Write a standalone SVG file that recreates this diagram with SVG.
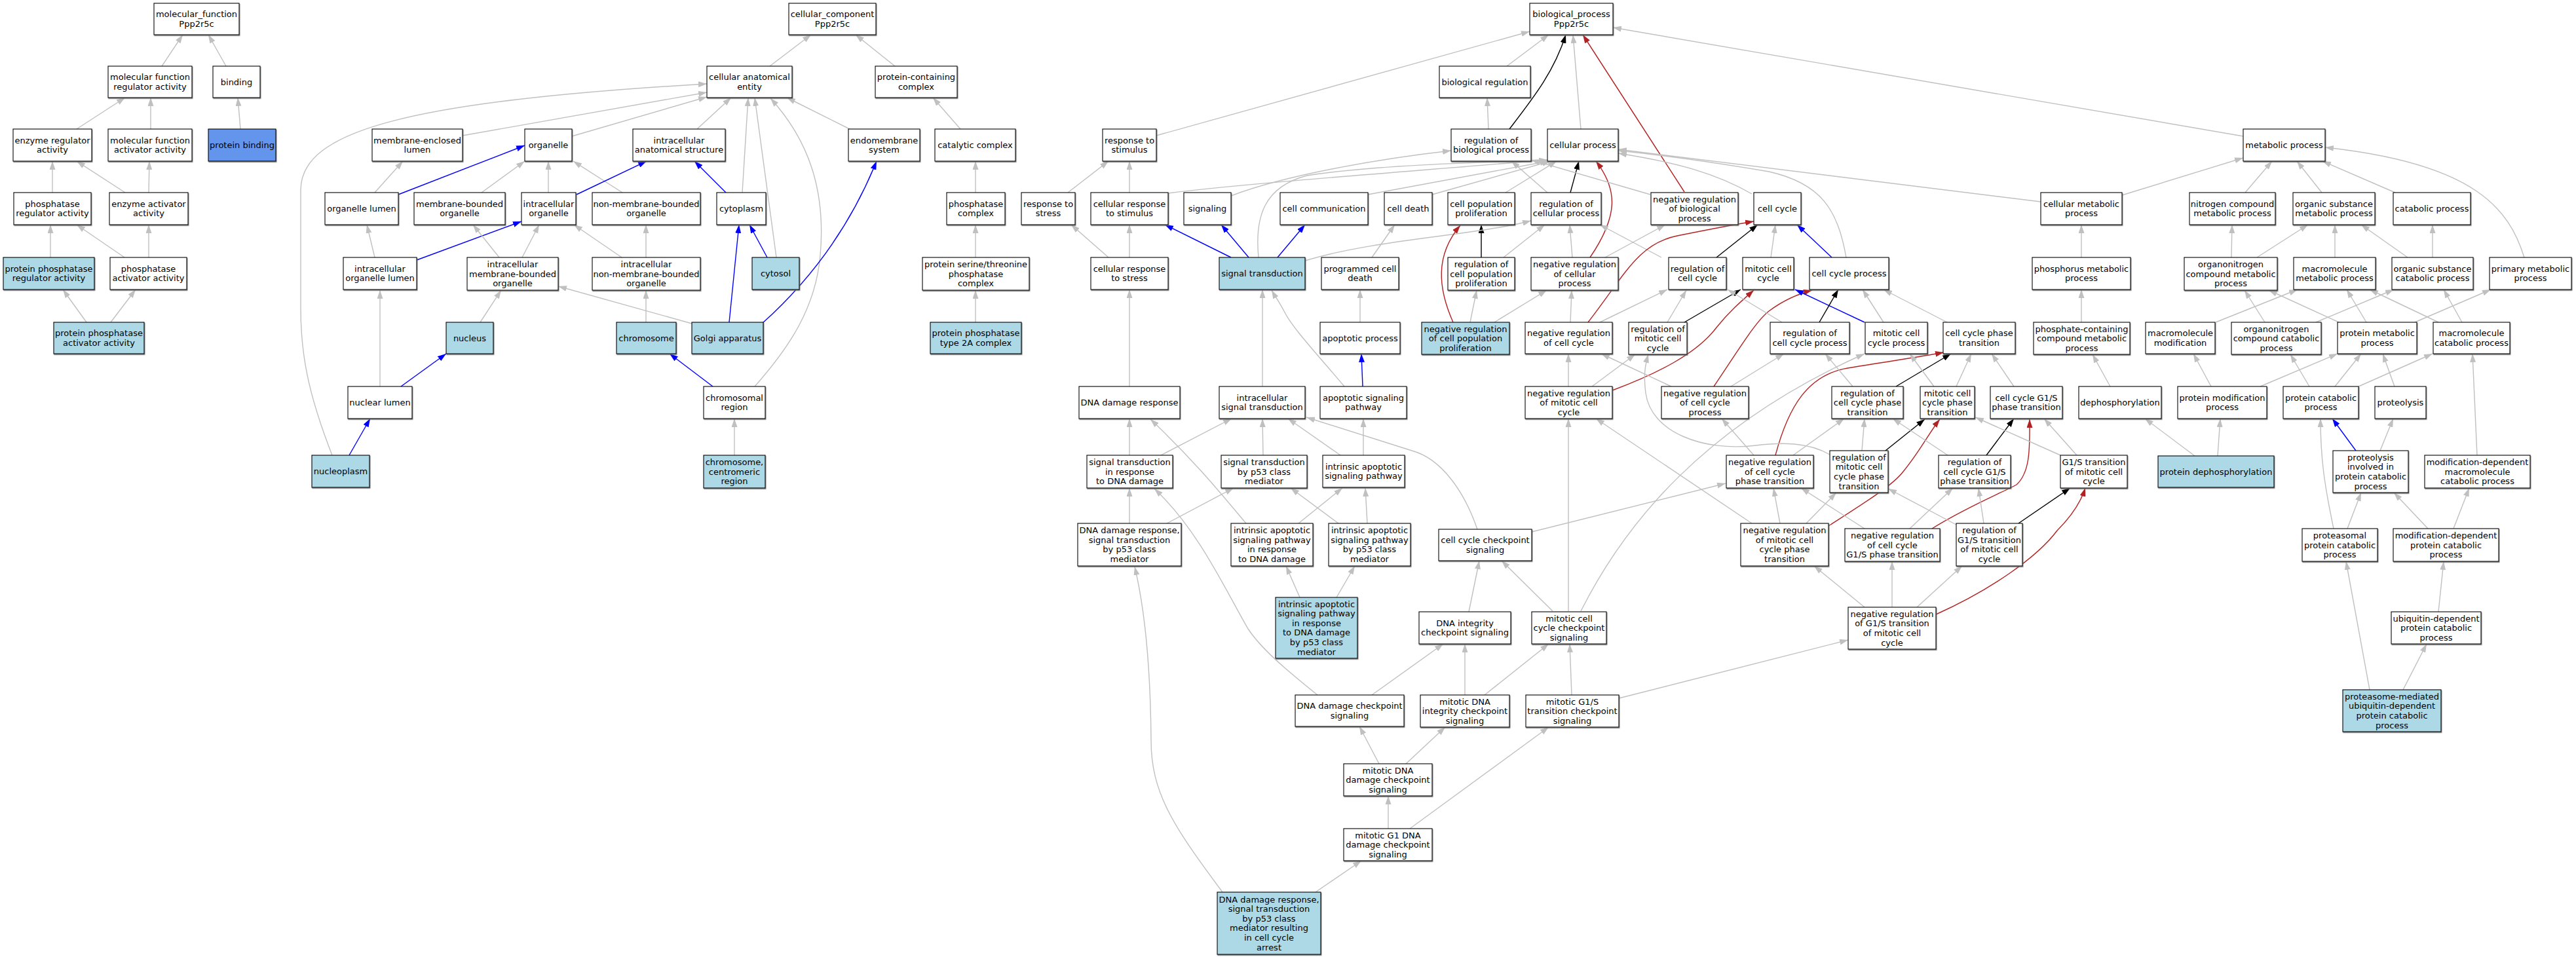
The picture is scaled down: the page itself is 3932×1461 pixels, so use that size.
<svg xmlns="http://www.w3.org/2000/svg" width="3932" height="1461" viewBox="0 0 3932 1461">
<style>
.n rect{fill:#fff;stroke:#000;stroke-width:1.1;filter:url(#sh)}
.lb rect{fill:#ADD8E6}
.pb rect{fill:#6495ED}
.n text{font-family:"DejaVu Sans","Liberation Sans",sans-serif;font-size:13px;text-anchor:middle;fill:#000}
.e path{fill:none;stroke-width:1.4}
.e .g{stroke:#C0C0C0;marker-end:url(#ag)}
.e .b{stroke:#0000FF;marker-end:url(#ab)}
.e .k{stroke:#000;marker-end:url(#ak)}
.e .r{stroke:#B22222;marker-end:url(#ar)}
</style>
<defs>
<filter id="sh" x="-5%" y="-5%" width="115%" height="120%"><feDropShadow dx="0.8" dy="1.3" stdDeviation="0" flood-color="#666"/></filter>
<marker id="ag" markerUnits="userSpaceOnUse" markerWidth="13" markerHeight="9" refX="13" refY="4.5" orient="auto"><path d="M0,0 L13,4.5 L0,9 z" fill="#C0C0C0"/></marker>
<marker id="ab" markerUnits="userSpaceOnUse" markerWidth="13" markerHeight="9" refX="13" refY="4.5" orient="auto"><path d="M0,0 L13,4.5 L0,9 z" fill="#0000FF"/></marker>
<marker id="ak" markerUnits="userSpaceOnUse" markerWidth="13" markerHeight="9" refX="13" refY="4.5" orient="auto"><path d="M0,0 L13,4.5 L0,9 z" fill="#000"/></marker>
<marker id="ar" markerUnits="userSpaceOnUse" markerWidth="13" markerHeight="9" refX="13" refY="4.5" orient="auto"><path d="M0,0 L13,4.5 L0,9 z" fill="#B22222"/></marker>
</defs>
<rect width="3932" height="1461" fill="#fff"/>
<g id="edges" class="e">
<path class="g" d="M247,101 L279,53"/>
<path class="g" d="M345,101 L318,53"/>
<path class="g" d="M117,197 L191,149"/>
<path class="g" d="M230,197 L230,149"/>
<path class="g" d="M367,197 L363,149"/>
<path class="g" d="M80,294 L80,246"/>
<path class="g" d="M191,294 L117,246"/>
<path class="g" d="M227,294 L228,246"/>
<path class="g" d="M77,393 L77,343"/>
<path class="g" d="M190,393 L117,343"/>
<path class="g" d="M227,393 L227,343"/>
<path class="g" d="M132,492 L96,442"/>
<path class="g" d="M169,492 L207,442"/>
<path class="g" d="M1175,101 L1238,53"/>
<path class="g" d="M1366,101 L1306,53"/>
<path class="g" d="M706,207 L1079,141"/>
<path class="g" d="M873,208 L1079,148"/>
<path class="g" d="M507,695 C470,600 459,540 459,470 L459,290 C459,200 620,155 1079,128"/>
<path class="g" d="M1064,197 L1116,149"/>
<path class="g" d="M1133,294 L1142,149"/>
<path class="g" d="M1185,393 L1152,149"/>
<path class="g" d="M1152,590 C1205,530 1245,470 1252,390 C1260,300 1240,220 1176,150"/>
<path class="g" d="M1297,197 L1201,149"/>
<path class="g" d="M1466,197 L1424,149"/>
<path class="g" d="M572,294 L615,246"/>
<path class="b" d="M608,297 L801,222"/>
<path class="g" d="M735,294 L801,246"/>
<path class="g" d="M837,294 L837,246"/>
<path class="g" d="M950,294 L875,246"/>
<path class="b" d="M880,297 L987,246"/>
<path class="b" d="M1108,294 L1060,246"/>
<path class="g" d="M1489,294 L1489,246"/>
<path class="g" d="M572,393 L560,343"/>
<path class="b" d="M636,397 L796,338"/>
<path class="g" d="M762,393 L722,343"/>
<path class="g" d="M797,393 L823,343"/>
<path class="g" d="M949,393 L876,343"/>
<path class="g" d="M986,393 L986,343"/>
<path class="b" d="M1171,393 L1144,343"/>
<path class="b" d="M1113,492 L1128,343"/>
<path class="g" d="M1056,494 L852,437"/>
<path class="g" d="M1489,393 L1489,343"/>
<path class="b" d="M1163,494 C1240,425 1300,340 1338,246"/>
<path class="g" d="M1489,492 L1489,443"/>
<path class="g" d="M733,492 L765,443"/>
<path class="g" d="M986,492 L986,443"/>
<path class="g" d="M580,590 L580,443"/>
<path class="b" d="M612,590 L681,540"/>
<path class="b" d="M1088,590 L1022,540"/>
<path class="b" d="M533,695 L565,639"/>
<path class="g" d="M1121,695 L1121,639"/>
<path class="g" d="M1765,207 L2335,48"/>
<path class="g" d="M1630,294 L1692,246"/>
<path class="g" d="M1724,294 L1724,246"/>
<path class="g" d="M1783,295 C1900,280 2150,262 2362,244"/>
<path class="g" d="M1879,299 C1960,268 2100,243 2215,230"/>
<path class="g" d="M1921,393 C1915,330 1930,285 1995,268 C2100,252 2250,248 2362,245"/>
<path class="g" d="M2088,297 L2364,246"/>
<path class="g" d="M2186,297 L2367,246"/>
<path class="g" d="M1692,393 L1635,343"/>
<path class="g" d="M1724,393 L1724,343"/>
<path class="b" d="M1879,393 L1778,343"/>
<path class="b" d="M1906,393 L1864,343"/>
<path class="b" d="M1950,393 L1992,343"/>
<path class="g" d="M2094,393 L2129,343"/>
<path class="g" d="M1724,590 L1724,442"/>
<path class="g" d="M1927,590 L1927,442"/>
<path class="g" d="M2052,590 C2010,540 1972,500 1960,475 C1952,460 1946,452 1941,443"/>
<path class="g" d="M2076,492 L2076,442"/>
<path class="b" d="M2080,590 L2078,540"/>
<path class="g" d="M1724,695 L1724,639"/>
<path class="g" d="M1772,695 L1880,639"/>
<path class="g" d="M1928,695 L1927,639"/>
<path class="g" d="M2046,695 L1966,639"/>
<path class="g" d="M2081,695 L2081,639"/>
<path class="g" d="M2255,808 C2235,750 2200,700 2155,688 L1994,637"/>
<path class="g" d="M1724,799 L1724,745"/>
<path class="g" d="M1781,799 L1883,745"/>
<path class="g" d="M1902,799 C1865,755 1820,700 1756,640"/>
<path class="g" d="M1982,799 L2049,745"/>
<path class="g" d="M2043,799 L1970,745"/>
<path class="g" d="M2087,799 L2084,745"/>
<path class="g" d="M1984,912 L1963,864"/>
<path class="g" d="M2040,912 L2068,864"/>
<path class="g" d="M1866,1362 C1790,1260 1757,1210 1757,1130 C1756,1000 1745,920 1732,865"/>
<path class="g" d="M2011,1061 C1960,1020 1925,990 1905,960 C1870,900 1830,810 1762,746"/>
<path class="g" d="M2094,1061 L2203,983"/>
<path class="g" d="M2242,934 L2258,856"/>
<path class="g" d="M2370,933 L2292,856"/>
<path class="g" d="M2394,933 L2394,639"/>
<path class="g" d="M2413,933 C2480,800 2600,650 2846,540"/>
<path class="g" d="M2236,1061 L2236,983"/>
<path class="g" d="M2266,1061 L2364,983"/>
<path class="g" d="M2399,1061 L2396,983"/>
<path class="g" d="M2471,1066 L2821,977"/>
<path class="g" d="M2105,1166 L2075,1109"/>
<path class="g" d="M2146,1166 L2206,1110"/>
<path class="g" d="M2119,1265 L2119,1215"/>
<path class="g" d="M2152,1265 L2364,1110"/>
<path class="g" d="M2008,1362 L2078,1314"/>
<path class="g" d="M2300,101 L2364,53"/>
<path class="k" d="M2304,197 C2340,150 2372,110 2390,53"/>
<path class="g" d="M2413,197 L2401,53"/>
<path class="r" d="M2571,293 L2416,53"/>
<path class="g" d="M3424,208 L2462,42"/>
<path class="g" d="M2272,197 L2270,149"/>
<path class="g" d="M2298,294 L2376,246"/>
<path class="g" d="M2362,294 L2307,246"/>
<path class="k" d="M2397,294 L2410,246"/>
<path class="r" d="M2427,393 C2470,330 2470,290 2436,246"/>
<path class="g" d="M2519,297 L2337,244"/>
<path class="g" d="M2674,296 C2620,265 2560,248 2470,234"/>
<path class="g" d="M2818,393 C2805,320 2780,280 2700,262 C2600,245 2520,235 2470,230"/>
<path class="g" d="M3115,308 L2470,228"/>
<path class="k" d="M2261,393 L2261,343"/>
<path class="g" d="M2295,393 L2358,343"/>
<path class="g" d="M2400,393 L2396,343"/>
<path class="g" d="M2450,393 L2542,343"/>
<path class="k" d="M2620,393 L2683,343"/>
<path class="g" d="M2703,393 L2710,343"/>
<path class="b" d="M2796,393 L2743,343"/>
<path class="g" d="M2536,393 L2442,343"/>
<path class="r" d="M2424,492 C2480,420 2500,372 2560,360 C2610,350 2645,343 2677,338"/>
<path class="g" d="M1992,398 C2100,365 2250,360 2337,337"/>
<path class="g" d="M2244,492 L2254,443"/>
<path class="g" d="M2281,492 L2361,443"/>
<path class="r" d="M2218,492 C2195,440 2190,390 2229,344"/>
<path class="g" d="M2397,492 L2399,443"/>
<path class="g" d="M2442,492 L2545,442"/>
<path class="g" d="M2545,492 L2574,443"/>
<path class="k" d="M2571,492 L2657,442"/>
<path class="r" d="M2461,596 C2530,570 2590,540 2620,500 C2640,475 2660,458 2677,443"/>
<path class="r" d="M2616,590 C2650,540 2680,490 2700,475 C2720,460 2740,450 2766,443"/>
<path class="b" d="M2846,492 L2740,442"/>
<path class="k" d="M2777,492 L2806,442"/>
<path class="g" d="M2720,492 L2637,442"/>
<path class="g" d="M2875,492 L2843,442"/>
<path class="g" d="M2972,492 L2875,442"/>
<path class="g" d="M2394,590 L2394,540"/>
<path class="g" d="M2430,590 L2496,541"/>
<path class="g" d="M2551,590 L2444,540"/>
<path class="g" d="M2642,590 L2723,540"/>
<path class="g" d="M2677,695 L2628,639"/>
<path class="g" d="M2737,695 L2815,639"/>
<path class="r" d="M2710,695 C2730,620 2760,572 2820,562 C2880,552 2930,545 2967,538"/>
<path class="g" d="M2828,590 L2786,540"/>
<path class="k" d="M2894,590 L2978,540"/>
<path class="g" d="M2952,590 L2915,540"/>
<path class="g" d="M2986,590 L3009,540"/>
<path class="g" d="M3074,590 L3040,540"/>
<path class="g" d="M2842,688 L2846,639"/>
<path class="k" d="M2878,688 L2938,640"/>
<path class="g" d="M2793,694 C2760,675 2720,675 2680,680 C2600,690 2520,660 2512,600 C2508,570 2512,555 2516,541"/>
<path class="g" d="M2674,799 L2436,639"/>
<path class="g" d="M2717,799 L2707,745"/>
<path class="g" d="M2757,799 L2803,752"/>
<path class="r" d="M2791,803 C2850,765 2890,740 2905,720 C2930,690 2945,660 2961,640"/>
<path class="g" d="M2338,812 L2634,738"/>
<path class="g" d="M2846,807 L2749,745"/>
<path class="g" d="M2915,807 L2981,745"/>
<path class="r" d="M2949,807 C3000,775 3060,750 3078,740 C3100,720 3098,680 3098,640"/>
<path class="g" d="M2973,695 L2889,639"/>
<path class="k" d="M3032,695 L3074,639"/>
<path class="g" d="M3170,695 L3120,639"/>
<path class="g" d="M3145,695 L3015,637"/>
<path class="g" d="M3028,799 L3020,745"/>
<path class="g" d="M2986,801 L2882,746"/>
<path class="k" d="M3081,799 L3160,745"/>
<path class="g" d="M2846,927 L2769,864"/>
<path class="g" d="M2888,927 L2888,857"/>
<path class="g" d="M2926,927 L2995,864"/>
<path class="r" d="M2955,938 C3040,900 3110,850 3140,810 C3160,790 3175,770 3183,745"/>
<path class="g" d="M3177,492 L3177,442"/>
<path class="g" d="M3221,590 L3194,541"/>
<path class="g" d="M3350,696 L3274,639"/>
<path class="g" d="M3385,696 L3389,639"/>
<path class="g" d="M3375,590 L3348,540"/>
<path class="g" d="M3450,590 L3568,540"/>
<path class="g" d="M3525,590 L3496,541"/>
<path class="g" d="M3564,590 L3604,540"/>
<path class="g" d="M3600,590 L3713,540"/>
<path class="g" d="M3655,590 L3637,540"/>
<path class="b" d="M3596,688 L3560,639"/>
<path class="g" d="M3633,688 L3653,639"/>
<path class="g" d="M3781,695 L3774,540"/>
<path class="g" d="M3562,807 C3548,740 3542,700 3542,639"/>
<path class="g" d="M3583,807 L3604,752"/>
<path class="g" d="M3706,807 L3654,752"/>
<path class="g" d="M3745,807 L3769,745"/>
<path class="g" d="M3722,934 L3730,857"/>
<path class="g" d="M3617,1053 L3581,857"/>
<path class="g" d="M3668,1053 L3704,983"/>
<path class="g" d="M3239,298 L3424,241"/>
<path class="g" d="M3427,294 L3468,246"/>
<path class="g" d="M3544,294 L3506,246"/>
<path class="g" d="M3656,294 L3545,246"/>
<path class="g" d="M3853,393 C3830,320 3780,250 3549,225"/>
<path class="g" d="M3177,393 L3177,343"/>
<path class="g" d="M3406,393 L3407,343"/>
<path class="g" d="M3445,393 L3523,343"/>
<path class="g" d="M3564,393 L3564,343"/>
<path class="g" d="M3675,393 L3604,343"/>
<path class="g" d="M3713,393 L3713,343"/>
<path class="g" d="M3382,492 L3507,442"/>
<path class="g" d="M3457,492 L3426,443"/>
<path class="g" d="M3535,492 L3654,442"/>
<path class="g" d="M3570,492 L3463,443"/>
<path class="g" d="M3612,492 L3582,442"/>
<path class="g" d="M3722,492 L3617,442"/>
<path class="g" d="M3758,492 L3730,442"/>
<path class="g" d="M3686,492 L3802,442"/>
</g>
<g id="nodes">
<g id="n1" class="n"><rect x="235" y="5" width="130" height="48"/><text y="26.3"><tspan x="300">molecular_function</tspan><tspan x="300" dy="14.6">Ppp2r5c</tspan></text></g>
<g id="n2" class="n"><rect x="165" y="101" width="128" height="48"/><text y="122.3"><tspan x="229">molecular function</tspan><tspan x="229" dy="14.6">regulator activity</tspan></text></g>
<g id="n3" class="n"><rect x="325" y="101" width="72" height="48"/><text x="361" y="129.6">binding</text></g>
<g id="n4" class="n"><rect x="20" y="197" width="120" height="49"/><text y="218.8"><tspan x="80">enzyme regulator</tspan><tspan x="80" dy="14.6">activity</tspan></text></g>
<g id="n5" class="n"><rect x="165" y="197" width="128" height="49"/><text y="218.8"><tspan x="229">molecular function</tspan><tspan x="229" dy="14.6">activator activity</tspan></text></g>
<g id="n6" class="n pb"><rect x="318" y="197" width="103" height="49"/><text x="369.5" y="226.1">protein binding</text></g>
<g id="n7" class="n"><rect x="21" y="294" width="118" height="49"/><text y="315.8"><tspan x="80">phosphatase</tspan><tspan x="80" dy="14.6">regulator activity</tspan></text></g>
<g id="n8" class="n"><rect x="167" y="294" width="120" height="49"/><text y="315.8"><tspan x="227">enzyme activator</tspan><tspan x="227" dy="14.6">activity</tspan></text></g>
<g id="n9" class="n lb"><rect x="5" y="393" width="139" height="49"/><text y="414.8"><tspan x="74.5">protein phosphatase</tspan><tspan x="74.5" dy="14.6">regulator activity</tspan></text></g>
<g id="n10" class="n"><rect x="168" y="393" width="117" height="49"/><text y="414.8"><tspan x="226.5">phosphatase</tspan><tspan x="226.5" dy="14.6">activator activity</tspan></text></g>
<g id="n11" class="n lb"><rect x="82" y="492" width="138" height="48"/><text y="513.3"><tspan x="151">protein phosphatase</tspan><tspan x="151" dy="14.6">activator activity</tspan></text></g>
<g id="c1" class="n"><rect x="1204" y="5" width="133" height="48"/><text y="26.3"><tspan x="1270.5">cellular_component</tspan><tspan x="1270.5" dy="14.6">Ppp2r5c</tspan></text></g>
<g id="c2" class="n"><rect x="1079" y="101" width="130" height="48"/><text y="122.3"><tspan x="1144">cellular anatomical</tspan><tspan x="1144" dy="14.6">entity</tspan></text></g>
<g id="c3" class="n"><rect x="1336" y="101" width="125" height="48"/><text y="122.3"><tspan x="1398.5">protein-containing</tspan><tspan x="1398.5" dy="14.6">complex</tspan></text></g>
<g id="c4" class="n"><rect x="568" y="197" width="138" height="49"/><text y="218.8"><tspan x="637">membrane-enclosed</tspan><tspan x="637" dy="14.6">lumen</tspan></text></g>
<g id="c5" class="n"><rect x="801" y="197" width="72" height="49"/><text x="837" y="226.1">organelle</text></g>
<g id="c6" class="n"><rect x="966" y="197" width="141" height="49"/><text y="218.8"><tspan x="1036.5">intracellular</tspan><tspan x="1036.5" dy="14.6">anatomical structure</tspan></text></g>
<g id="c7" class="n"><rect x="1295" y="197" width="109" height="49"/><text y="218.8"><tspan x="1349.5">endomembrane</tspan><tspan x="1349.5" dy="14.6">system</tspan></text></g>
<g id="c8" class="n"><rect x="1427" y="197" width="123" height="49"/><text x="1488.5" y="226.1">catalytic complex</text></g>
<g id="c9" class="n"><rect x="496" y="294" width="112" height="49"/><text x="552" y="323.1">organelle lumen</text></g>
<g id="c10" class="n"><rect x="632" y="294" width="139" height="49"/><text y="315.8"><tspan x="701.5">membrane-bounded</tspan><tspan x="701.5" dy="14.6">organelle</tspan></text></g>
<g id="c11" class="n"><rect x="796" y="294" width="83" height="49"/><text y="315.8"><tspan x="837.5">intracellular</tspan><tspan x="837.5" dy="14.6">organelle</tspan></text></g>
<g id="c12" class="n"><rect x="904" y="294" width="165" height="49"/><text y="315.8"><tspan x="986.5">non-membrane-bounded</tspan><tspan x="986.5" dy="14.6">organelle</tspan></text></g>
<g id="c13" class="n"><rect x="1094" y="294" width="75" height="49"/><text x="1131.5" y="323.1">cytoplasm</text></g>
<g id="c14" class="n"><rect x="1445" y="294" width="89" height="49"/><text y="315.8"><tspan x="1489.5">phosphatase</tspan><tspan x="1489.5" dy="14.6">complex</tspan></text></g>
<g id="c15" class="n"><rect x="524" y="393" width="112" height="49"/><text y="414.8"><tspan x="580">intracellular</tspan><tspan x="580" dy="14.6">organelle lumen</tspan></text></g>
<g id="c16" class="n"><rect x="713" y="393" width="139" height="50"/><text y="408"><tspan x="782.5">intracellular</tspan><tspan x="782.5" dy="14.6">membrane-bounded</tspan><tspan x="782.5" dy="14.6">organelle</tspan></text></g>
<g id="c17" class="n"><rect x="904" y="393" width="165" height="50"/><text y="408"><tspan x="986.5">intracellular</tspan><tspan x="986.5" dy="14.6">non-membrane-bounded</tspan><tspan x="986.5" dy="14.6">organelle</tspan></text></g>
<g id="c18" class="n lb"><rect x="1148" y="393" width="72" height="49"/><text x="1184" y="422.1">cytosol</text></g>
<g id="c19" class="n"><rect x="1408" y="393" width="163" height="50"/><text y="408"><tspan x="1489.5">protein serine/threonine</tspan><tspan x="1489.5" dy="14.6">phosphatase</tspan><tspan x="1489.5" dy="14.6">complex</tspan></text></g>
<g id="c20" class="n lb"><rect x="681" y="492" width="72" height="48"/><text x="717" y="520.6">nucleus</text></g>
<g id="c21" class="n lb"><rect x="941" y="492" width="91" height="48"/><text x="986.5" y="520.6">chromosome</text></g>
<g id="c22" class="n lb"><rect x="1056" y="492" width="109" height="48"/><text x="1110.5" y="520.6">Golgi apparatus</text></g>
<g id="c23" class="n lb"><rect x="1420" y="492" width="139" height="48"/><text y="513.3"><tspan x="1489.5">protein phosphatase</tspan><tspan x="1489.5" dy="14.6">type 2A complex</tspan></text></g>
<g id="c24" class="n"><rect x="531" y="590" width="98" height="49"/><text x="580" y="619.1">nuclear lumen</text></g>
<g id="c25" class="n"><rect x="1074" y="590" width="94" height="49"/><text y="611.8"><tspan x="1121">chromosomal</tspan><tspan x="1121" dy="14.6">region</tspan></text></g>
<g id="c26" class="n lb"><rect x="476" y="695" width="88" height="49"/><text x="520" y="724.1">nucleoplasm</text></g>
<g id="c27" class="n lb"><rect x="1074" y="695" width="94" height="50"/><text y="710"><tspan x="1121">chromosome,</tspan><tspan x="1121" dy="14.6">centromeric</tspan><tspan x="1121" dy="14.6">region</tspan></text></g>
<g id="b1" class="n"><rect x="2335" y="5" width="127" height="48"/><text y="26.3"><tspan x="2398.5">biological_process</tspan><tspan x="2398.5" dy="14.6">Ppp2r5c</tspan></text></g>
<g id="b2" class="n"><rect x="2197" y="101" width="139" height="48"/><text x="2266.5" y="129.6">biological regulation</text></g>
<g id="b3" class="n"><rect x="1683" y="197" width="82" height="49"/><text y="218.8"><tspan x="1724">response to</tspan><tspan x="1724" dy="14.6">stimulus</tspan></text></g>
<g id="b4" class="n"><rect x="2215" y="197" width="122" height="49"/><text y="218.8"><tspan x="2276">regulation of</tspan><tspan x="2276" dy="14.6">biological process</tspan></text></g>
<g id="b5" class="n"><rect x="2362" y="197" width="108" height="49"/><text x="2416" y="226.1">cellular process</text></g>
<g id="b6" class="n"><rect x="3424" y="197" width="125" height="49"/><text x="3486.5" y="226.1">metabolic process</text></g>
<g id="b7" class="n"><rect x="1559" y="294" width="82" height="49"/><text y="315.8"><tspan x="1600">response to</tspan><tspan x="1600" dy="14.6">stress</tspan></text></g>
<g id="b8" class="n"><rect x="1665" y="294" width="118" height="49"/><text y="315.8"><tspan x="1724">cellular response</tspan><tspan x="1724" dy="14.6">to stimulus</tspan></text></g>
<g id="b9" class="n"><rect x="1807" y="294" width="72" height="49"/><text x="1843" y="323.1">signaling</text></g>
<g id="b10" class="n"><rect x="1954" y="294" width="134" height="49"/><text x="2021" y="323.1">cell communication</text></g>
<g id="b11" class="n"><rect x="2113" y="294" width="73" height="49"/><text x="2149.5" y="323.1">cell death</text></g>
<g id="b12" class="n"><rect x="2210" y="294" width="102" height="49"/><text y="315.8"><tspan x="2261">cell population</tspan><tspan x="2261" dy="14.6">proliferation</tspan></text></g>
<g id="b13" class="n"><rect x="2337" y="294" width="107" height="49"/><text y="315.8"><tspan x="2390.5">regulation of</tspan><tspan x="2390.5" dy="14.6">cellular process</tspan></text></g>
<g id="b14" class="n"><rect x="2520" y="294" width="133" height="49"/><text y="308.5"><tspan x="2586.5">negative regulation</tspan><tspan x="2586.5" dy="14.6">of biological</tspan><tspan x="2586.5" dy="14.6">process</tspan></text></g>
<g id="b15" class="n"><rect x="2677" y="294" width="72" height="49"/><text x="2713" y="323.1">cell cycle</text></g>
<g id="b16" class="n"><rect x="3115" y="294" width="124" height="49"/><text y="315.8"><tspan x="3177">cellular metabolic</tspan><tspan x="3177" dy="14.6">process</tspan></text></g>
<g id="b17" class="n"><rect x="3342" y="294" width="131" height="49"/><text y="315.8"><tspan x="3407.5">nitrogen compound</tspan><tspan x="3407.5" dy="14.6">metabolic process</tspan></text></g>
<g id="b18" class="n"><rect x="3500" y="294" width="125" height="49"/><text y="315.8"><tspan x="3562.5">organic substance</tspan><tspan x="3562.5" dy="14.6">metabolic process</tspan></text></g>
<g id="b19" class="n"><rect x="3653" y="294" width="118" height="49"/><text x="3712" y="323.1">catabolic process</text></g>
<g id="b20" class="n"><rect x="1665" y="393" width="118" height="49"/><text y="414.8"><tspan x="1724">cellular response</tspan><tspan x="1724" dy="14.6">to stress</tspan></text></g>
<g id="b21" class="n lb"><rect x="1861" y="393" width="131" height="49"/><text x="1926.5" y="422.1">signal transduction</text></g>
<g id="b22" class="n"><rect x="2017" y="393" width="118" height="49"/><text y="414.8"><tspan x="2076">programmed cell</tspan><tspan x="2076" dy="14.6">death</tspan></text></g>
<g id="b23" class="n"><rect x="2210" y="393" width="102" height="50"/><text y="408"><tspan x="2261">regulation of</tspan><tspan x="2261" dy="14.6">cell population</tspan><tspan x="2261" dy="14.6">proliferation</tspan></text></g>
<g id="b24" class="n"><rect x="2337" y="393" width="133" height="50"/><text y="408"><tspan x="2403.5">negative regulation</tspan><tspan x="2403.5" dy="14.6">of cellular</tspan><tspan x="2403.5" dy="14.6">process</tspan></text></g>
<g id="b25" class="n"><rect x="2547" y="393" width="88" height="49"/><text y="414.8"><tspan x="2591">regulation of</tspan><tspan x="2591" dy="14.6">cell cycle</tspan></text></g>
<g id="b26" class="n"><rect x="2660" y="393" width="78" height="49"/><text y="414.8"><tspan x="2699">mitotic cell</tspan><tspan x="2699" dy="14.6">cycle</tspan></text></g>
<g id="b27" class="n"><rect x="2762" y="393" width="121" height="49"/><text x="2822.5" y="422.1">cell cycle process</text></g>
<g id="b28" class="n"><rect x="3102" y="393" width="150" height="49"/><text y="414.8"><tspan x="3177">phosphorus metabolic</tspan><tspan x="3177" dy="14.6">process</tspan></text></g>
<g id="b29" class="n"><rect x="3334" y="393" width="142" height="50"/><text y="408"><tspan x="3405">organonitrogen</tspan><tspan x="3405" dy="14.6">compound metabolic</tspan><tspan x="3405" dy="14.6">process</tspan></text></g>
<g id="b30" class="n"><rect x="3501" y="393" width="125" height="49"/><text y="414.8"><tspan x="3563.5">macromolecule</tspan><tspan x="3563.5" dy="14.6">metabolic process</tspan></text></g>
<g id="b31" class="n"><rect x="3651" y="393" width="124" height="49"/><text y="414.8"><tspan x="3713">organic substance</tspan><tspan x="3713" dy="14.6">catabolic process</tspan></text></g>
<g id="b32" class="n"><rect x="3800" y="393" width="125" height="49"/><text y="414.8"><tspan x="3862.5">primary metabolic</tspan><tspan x="3862.5" dy="14.6">process</tspan></text></g>
<g id="b33" class="n"><rect x="2015" y="492" width="122" height="48"/><text x="2076" y="520.6">apoptotic process</text></g>
<g id="b34" class="n lb"><rect x="2170" y="492" width="134" height="49"/><text y="506.5"><tspan x="2237">negative regulation</tspan><tspan x="2237" dy="14.6">of cell population</tspan><tspan x="2237" dy="14.6">proliferation</tspan></text></g>
<g id="b35" class="n"><rect x="2328" y="492" width="133" height="48"/><text y="513.3"><tspan x="2394.5">negative regulation</tspan><tspan x="2394.5" dy="14.6">of cell cycle</tspan></text></g>
<g id="b36" class="n"><rect x="2486" y="492" width="89" height="49"/><text y="506.5"><tspan x="2530.5">regulation of</tspan><tspan x="2530.5" dy="14.6">mitotic cell</tspan><tspan x="2530.5" dy="14.6">cycle</tspan></text></g>
<g id="b37" class="n"><rect x="2702" y="492" width="121" height="48"/><text y="513.3"><tspan x="2762.5">regulation of</tspan><tspan x="2762.5" dy="14.6">cell cycle process</tspan></text></g>
<g id="b38" class="n"><rect x="2847" y="492" width="95" height="48"/><text y="513.3"><tspan x="2894.5">mitotic cell</tspan><tspan x="2894.5" dy="14.6">cycle process</tspan></text></g>
<g id="b39" class="n"><rect x="2966" y="492" width="110" height="48"/><text y="513.3"><tspan x="3021">cell cycle phase</tspan><tspan x="3021" dy="14.6">transition</tspan></text></g>
<g id="b40" class="n"><rect x="3104" y="492" width="147" height="49"/><text y="506.5"><tspan x="3177.5">phosphate-containing</tspan><tspan x="3177.5" dy="14.6">compound metabolic</tspan><tspan x="3177.5" dy="14.6">process</tspan></text></g>
<g id="b41" class="n"><rect x="3275" y="492" width="106" height="48"/><text y="513.3"><tspan x="3328">macromolecule</tspan><tspan x="3328" dy="14.6">modification</tspan></text></g>
<g id="b42" class="n"><rect x="3406" y="492" width="137" height="49"/><text y="506.5"><tspan x="3474.5">organonitrogen</tspan><tspan x="3474.5" dy="14.6">compound catabolic</tspan><tspan x="3474.5" dy="14.6">process</tspan></text></g>
<g id="b43" class="n"><rect x="3568" y="492" width="121" height="48"/><text y="513.3"><tspan x="3628.5">protein metabolic</tspan><tspan x="3628.5" dy="14.6">process</tspan></text></g>
<g id="b44" class="n"><rect x="3714" y="492" width="117" height="48"/><text y="513.3"><tspan x="3772.5">macromolecule</tspan><tspan x="3772.5" dy="14.6">catabolic process</tspan></text></g>
<g id="b45" class="n"><rect x="1647" y="590" width="154" height="49"/><text x="1724" y="619.1">DNA damage response</text></g>
<g id="b46" class="n"><rect x="1861" y="590" width="131" height="49"/><text y="611.8"><tspan x="1926.5">intracellular</tspan><tspan x="1926.5" dy="14.6">signal transduction</tspan></text></g>
<g id="b47" class="n"><rect x="2015" y="590" width="132" height="49"/><text y="611.8"><tspan x="2081">apoptotic signaling</tspan><tspan x="2081" dy="14.6">pathway</tspan></text></g>
<g id="b48" class="n"><rect x="2328" y="590" width="133" height="49"/><text y="604.5"><tspan x="2394.5">negative regulation</tspan><tspan x="2394.5" dy="14.6">of mitotic cell</tspan><tspan x="2394.5" dy="14.6">cycle</tspan></text></g>
<g id="b49" class="n"><rect x="2536" y="590" width="133" height="49"/><text y="604.5"><tspan x="2602.5">negative regulation</tspan><tspan x="2602.5" dy="14.6">of cell cycle</tspan><tspan x="2602.5" dy="14.6">process</tspan></text></g>
<g id="b50" class="n"><rect x="2796" y="590" width="109" height="49"/><text y="604.5"><tspan x="2850.5">regulation of</tspan><tspan x="2850.5" dy="14.6">cell cycle phase</tspan><tspan x="2850.5" dy="14.6">transition</tspan></text></g>
<g id="b51" class="n"><rect x="2931" y="590" width="83" height="49"/><text y="604.5"><tspan x="2972.5">mitotic cell</tspan><tspan x="2972.5" dy="14.6">cycle phase</tspan><tspan x="2972.5" dy="14.6">transition</tspan></text></g>
<g id="b52" class="n"><rect x="3038" y="590" width="110" height="49"/><text y="611.8"><tspan x="3093">cell cycle G1/S</tspan><tspan x="3093" dy="14.6">phase transition</tspan></text></g>
<g id="b53" class="n"><rect x="3173" y="590" width="126" height="49"/><text x="3236" y="619.1">dephosphorylation</text></g>
<g id="b54" class="n"><rect x="3324" y="590" width="136" height="49"/><text y="611.8"><tspan x="3392">protein modification</tspan><tspan x="3392" dy="14.6">process</tspan></text></g>
<g id="b55" class="n"><rect x="3485" y="590" width="115" height="49"/><text y="611.8"><tspan x="3542.5">protein catabolic</tspan><tspan x="3542.5" dy="14.6">process</tspan></text></g>
<g id="b56" class="n"><rect x="3625" y="590" width="78" height="49"/><text x="3664" y="619.1">proteolysis</text></g>
<g id="b57" class="n"><rect x="1659" y="695" width="131" height="50"/><text y="710"><tspan x="1724.5">signal transduction</tspan><tspan x="1724.5" dy="14.6">in response</tspan><tspan x="1724.5" dy="14.6">to DNA damage</tspan></text></g>
<g id="b58" class="n"><rect x="1864" y="695" width="131" height="50"/><text y="710"><tspan x="1929.5">signal transduction</tspan><tspan x="1929.5" dy="14.6">by p53 class</tspan><tspan x="1929.5" dy="14.6">mediator</tspan></text></g>
<g id="b59" class="n"><rect x="2019" y="695" width="125" height="49"/><text y="716.8"><tspan x="2081.5">intrinsic apoptotic</tspan><tspan x="2081.5" dy="14.6">signaling pathway</tspan></text></g>
<g id="b60" class="n"><rect x="2635" y="695" width="133" height="50"/><text y="710"><tspan x="2701.5">negative regulation</tspan><tspan x="2701.5" dy="14.6">of cell cycle</tspan><tspan x="2701.5" dy="14.6">phase transition</tspan></text></g>
<g id="b61" class="n"><rect x="2793" y="688" width="89" height="64"/><text y="702.7"><tspan x="2837.5">regulation of</tspan><tspan x="2837.5" dy="14.6">mitotic cell</tspan><tspan x="2837.5" dy="14.6">cycle phase</tspan><tspan x="2837.5" dy="14.6">transition</tspan></text></g>
<g id="b62" class="n"><rect x="2959" y="695" width="110" height="50"/><text y="710"><tspan x="3014">regulation of</tspan><tspan x="3014" dy="14.6">cell cycle G1/S</tspan><tspan x="3014" dy="14.6">phase transition</tspan></text></g>
<g id="b63" class="n"><rect x="3145" y="695" width="102" height="50"/><text y="710"><tspan x="3196">G1/S transition</tspan><tspan x="3196" dy="14.6">of mitotic cell</tspan><tspan x="3196" dy="14.6">cycle</tspan></text></g>
<g id="b64" class="n lb"><rect x="3294" y="696" width="177" height="48"/><text x="3382.5" y="724.6">protein dephosphorylation</text></g>
<g id="b65" class="n"><rect x="3561" y="688" width="115" height="64"/><text y="702.7"><tspan x="3618.5">proteolysis</tspan><tspan x="3618.5" dy="14.6">involved in</tspan><tspan x="3618.5" dy="14.6">protein catabolic</tspan><tspan x="3618.5" dy="14.6">process</tspan></text></g>
<g id="b66" class="n"><rect x="3701" y="695" width="161" height="50"/><text y="710"><tspan x="3781.5">modification-dependent</tspan><tspan x="3781.5" dy="14.6">macromolecule</tspan><tspan x="3781.5" dy="14.6">catabolic process</tspan></text></g>
<g id="b67" class="n"><rect x="1645" y="799" width="158" height="65"/><text y="814.2"><tspan x="1724">DNA damage response,</tspan><tspan x="1724" dy="14.6">signal transduction</tspan><tspan x="1724" dy="14.6">by p53 class</tspan><tspan x="1724" dy="14.6">mediator</tspan></text></g>
<g id="b68" class="n"><rect x="1879" y="799" width="125" height="65"/><text y="814.2"><tspan x="1941.5">intrinsic apoptotic</tspan><tspan x="1941.5" dy="14.6">signaling pathway</tspan><tspan x="1941.5" dy="14.6">in response</tspan><tspan x="1941.5" dy="14.6">to DNA damage</tspan></text></g>
<g id="b69" class="n"><rect x="2028" y="799" width="125" height="65"/><text y="814.2"><tspan x="2090.5">intrinsic apoptotic</tspan><tspan x="2090.5" dy="14.6">signaling pathway</tspan><tspan x="2090.5" dy="14.6">by p53 class</tspan><tspan x="2090.5" dy="14.6">mediator</tspan></text></g>
<g id="b70" class="n"><rect x="2196" y="808" width="142" height="48"/><text y="829.3"><tspan x="2267">cell cycle checkpoint</tspan><tspan x="2267" dy="14.6">signaling</tspan></text></g>
<g id="b71" class="n"><rect x="2657" y="799" width="134" height="65"/><text y="814.2"><tspan x="2724">negative regulation</tspan><tspan x="2724" dy="14.6">of mitotic cell</tspan><tspan x="2724" dy="14.6">cycle phase</tspan><tspan x="2724" dy="14.6">transition</tspan></text></g>
<g id="b72" class="n"><rect x="2816" y="807" width="145" height="50"/><text y="822"><tspan x="2888.5">negative regulation</tspan><tspan x="2888.5" dy="14.6">of cell cycle</tspan><tspan x="2888.5" dy="14.6">G1/S phase transition</tspan></text></g>
<g id="b73" class="n"><rect x="2986" y="799" width="101" height="65"/><text y="814.2"><tspan x="3036.5">regulation of</tspan><tspan x="3036.5" dy="14.6">G1/S transition</tspan><tspan x="3036.5" dy="14.6">of mitotic cell</tspan><tspan x="3036.5" dy="14.6">cycle</tspan></text></g>
<g id="b74" class="n"><rect x="3514" y="807" width="115" height="50"/><text y="822"><tspan x="3571.5">proteasomal</tspan><tspan x="3571.5" dy="14.6">protein catabolic</tspan><tspan x="3571.5" dy="14.6">process</tspan></text></g>
<g id="b75" class="n"><rect x="3653" y="807" width="161" height="50"/><text y="822"><tspan x="3733.5">modification-dependent</tspan><tspan x="3733.5" dy="14.6">protein catabolic</tspan><tspan x="3733.5" dy="14.6">process</tspan></text></g>
<g id="b76" class="n lb"><rect x="1947" y="912" width="125" height="93"/><text y="926.6"><tspan x="2009.5">intrinsic apoptotic</tspan><tspan x="2009.5" dy="14.6">signaling pathway</tspan><tspan x="2009.5" dy="14.6">in response</tspan><tspan x="2009.5" dy="14.6">to DNA damage</tspan><tspan x="2009.5" dy="14.6">by p53 class</tspan><tspan x="2009.5" dy="14.6">mediator</tspan></text></g>
<g id="b77" class="n"><rect x="2166" y="934" width="140" height="49"/><text y="955.8"><tspan x="2236">DNA integrity</tspan><tspan x="2236" dy="14.6">checkpoint signaling</tspan></text></g>
<g id="b78" class="n"><rect x="2338" y="934" width="114" height="49"/><text y="948.5"><tspan x="2395">mitotic cell</tspan><tspan x="2395" dy="14.6">cycle checkpoint</tspan><tspan x="2395" dy="14.6">signaling</tspan></text></g>
<g id="b79" class="n"><rect x="2821" y="927" width="134" height="64"/><text y="941.7"><tspan x="2888">negative regulation</tspan><tspan x="2888" dy="14.6">of G1/S transition</tspan><tspan x="2888" dy="14.6">of mitotic cell</tspan><tspan x="2888" dy="14.6">cycle</tspan></text></g>
<g id="b80" class="n"><rect x="3650" y="934" width="137" height="49"/><text y="948.5"><tspan x="3718.5">ubiquitin-dependent</tspan><tspan x="3718.5" dy="14.6">protein catabolic</tspan><tspan x="3718.5" dy="14.6">process</tspan></text></g>
<g id="b81" class="n"><rect x="1977" y="1061" width="166" height="48"/><text y="1082.3"><tspan x="2060">DNA damage checkpoint</tspan><tspan x="2060" dy="14.6">signaling</tspan></text></g>
<g id="b82" class="n"><rect x="2168" y="1061" width="136" height="49"/><text y="1075.5"><tspan x="2236">mitotic DNA</tspan><tspan x="2236" dy="14.6">integrity checkpoint</tspan><tspan x="2236" dy="14.6">signaling</tspan></text></g>
<g id="b83" class="n"><rect x="2329" y="1061" width="142" height="49"/><text y="1075.5"><tspan x="2400">mitotic G1/S</tspan><tspan x="2400" dy="14.6">transition checkpoint</tspan><tspan x="2400" dy="14.6">signaling</tspan></text></g>
<g id="b84" class="n lb"><rect x="3576" y="1053" width="150" height="64"/><text y="1067.7"><tspan x="3651">proteasome-mediated</tspan><tspan x="3651" dy="14.6">ubiquitin-dependent</tspan><tspan x="3651" dy="14.6">protein catabolic</tspan><tspan x="3651" dy="14.6">process</tspan></text></g>
<g id="b85" class="n"><rect x="2051" y="1166" width="135" height="49"/><text y="1180.5"><tspan x="2118.5">mitotic DNA</tspan><tspan x="2118.5" dy="14.6">damage checkpoint</tspan><tspan x="2118.5" dy="14.6">signaling</tspan></text></g>
<g id="b86" class="n"><rect x="2051" y="1265" width="135" height="49"/><text y="1279.5"><tspan x="2118.5">mitotic G1 DNA</tspan><tspan x="2118.5" dy="14.6">damage checkpoint</tspan><tspan x="2118.5" dy="14.6">signaling</tspan></text></g>
<g id="b87" class="n lb"><rect x="1858" y="1362" width="158" height="95"/><text y="1377.6"><tspan x="1937">DNA damage response,</tspan><tspan x="1937" dy="14.6">signal transduction</tspan><tspan x="1937" dy="14.6">by p53 class</tspan><tspan x="1937" dy="14.6">mediator resulting</tspan><tspan x="1937" dy="14.6">in cell cycle</tspan><tspan x="1937" dy="14.6">arrest</tspan></text></g>
</g>
</svg>
